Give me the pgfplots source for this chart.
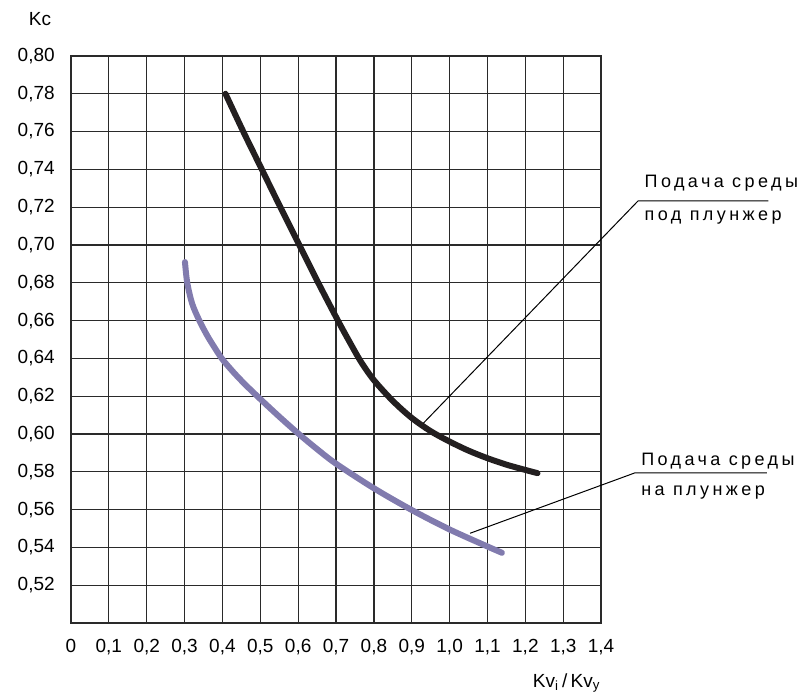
\documentclass[border=0pt]{standalone}
\usepackage{fontspec}
\setmainfont{Liberation Sans}
\newfontfamily\lblfont[LetterSpace=19]{Liberation Sans}
\usepackage{pgfplots}
\pgfplotsset{compat=1.18}
\definecolor{curveblack}{HTML}{231F20}
\definecolor{curvepurple}{HTML}{817BAE}
\definecolor{gridc}{HTML}{2A2A2A}
\begin{document}
\begin{tikzpicture}
\begin{axis}[
  scale only axis,
  width=265pt, height=283.5pt,
  xmin=0, xmax=1.4, ymin=0.50, ymax=0.80,
  xtick={0,0.1,0.2,0.3,0.4,0.5,0.6,0.7,0.8,0.9,1.0,1.1,1.2,1.3,1.4},
  xticklabels={0,{0,1},{0,2},{0,3},{0,4},{0,5},{0,6},{0,7},{0,8},{0,9},{1,0},{1,1},{1,2},{1,3},{1,4}},
  ytick={0.50,0.52,0.54,0.56,0.58,0.60,0.62,0.64,0.66,0.68,0.70,0.72,0.74,0.76,0.78,0.80},
  yticklabels={,{0,52},{0,54},{0,56},{0,58},{0,60},{0,62},{0,64},{0,66},{0,68},{0,70},{0,72},{0,74},{0,76},{0,78},{0,80}},
  major tick length=0pt,
  grid=major,
  major grid style={gridc, line width=0.6pt},
  axis line style={gridc, line width=0.6pt},
  ticklabel style={font=\fontsize{9.5}{11}\selectfont, text=black},
  xticklabel style={yshift=-4.6pt},
  yticklabel style={xshift=-4.6pt},
  clip=false,
]
% invisible frame for page size
\path (axis cs:-0.1875,0.4614) rectangle (axis cs:1.957,0.8296);

\addplot[curveblack, line width=3pt, line cap=round, line join=round, smooth, tension=0.5] coordinates {
(0.408,0.780) (0.455,0.760) (0.504,0.740) (0.553,0.720) (0.603,0.700)
(0.653,0.680) (0.705,0.660) (0.735,0.649) (0.765,0.6385) (0.800,0.6285)
(0.850,0.6175) (0.900,0.6085) (0.950,0.6015) (1.000,0.5960) (1.050,0.5912)
(1.100,0.5872) (1.150,0.5838) (1.200,0.5810) (1.232,0.5793)
};
\addplot[curvepurple, line width=3pt, line cap=round, line join=round, smooth, tension=0.5] coordinates {
(0.301,0.691) (0.307,0.680) (0.320,0.669) (0.339,0.660) (0.360,0.652)
(0.380,0.6455) (0.400,0.6395) (0.430,0.6325) (0.460,0.6262) (0.500,0.6185)
(0.550,0.6092) (0.600,0.6003) (0.650,0.5920) (0.700,0.5843) (0.800,0.5713)
(0.900,0.5598) (1.000,0.5495) (1.100,0.5405) (1.138,0.5372)
};
% leader lines
\addplot[black, line width=0.5pt] coordinates {(0.9305,0.6057) (1.498,0.7234) (1.842,0.7234)};
\addplot[black, line width=0.5pt] coordinates {(1.054,0.5475) (1.490,0.5795) (1.838,0.5795)};

\node[anchor=base west, inner sep=0pt, font=\fontsize{9}{11}\lblfont] at (axis cs:1.514,0.7305) {Подача среды};
\node[anchor=base west, inner sep=0pt, font=\fontsize{9}{11}\lblfont] at (axis cs:1.514,0.7132) {под плунжер};
\node[anchor=base west, inner sep=0pt, font=\fontsize{9}{11}\lblfont] at (axis cs:1.505,0.5836) {Подача среды};
\node[anchor=base west, inner sep=0pt, font=\fontsize{9}{11}\lblfont] at (axis cs:1.505,0.5677) {на плунжер};

\node[anchor=base, inner sep=0pt, font=\fontsize{9.5}{11}\selectfont] at (axis cs:-0.0819,0.8159) {Kc};
\node[anchor=base, inner sep=0pt, font=\fontsize{9.5}{11}\selectfont] at (axis cs:1.309,0.4661) {Kv\textsubscript{i}\,/\,Kv\textsubscript{y}};
\end{axis}
\end{tikzpicture}
\end{document}
